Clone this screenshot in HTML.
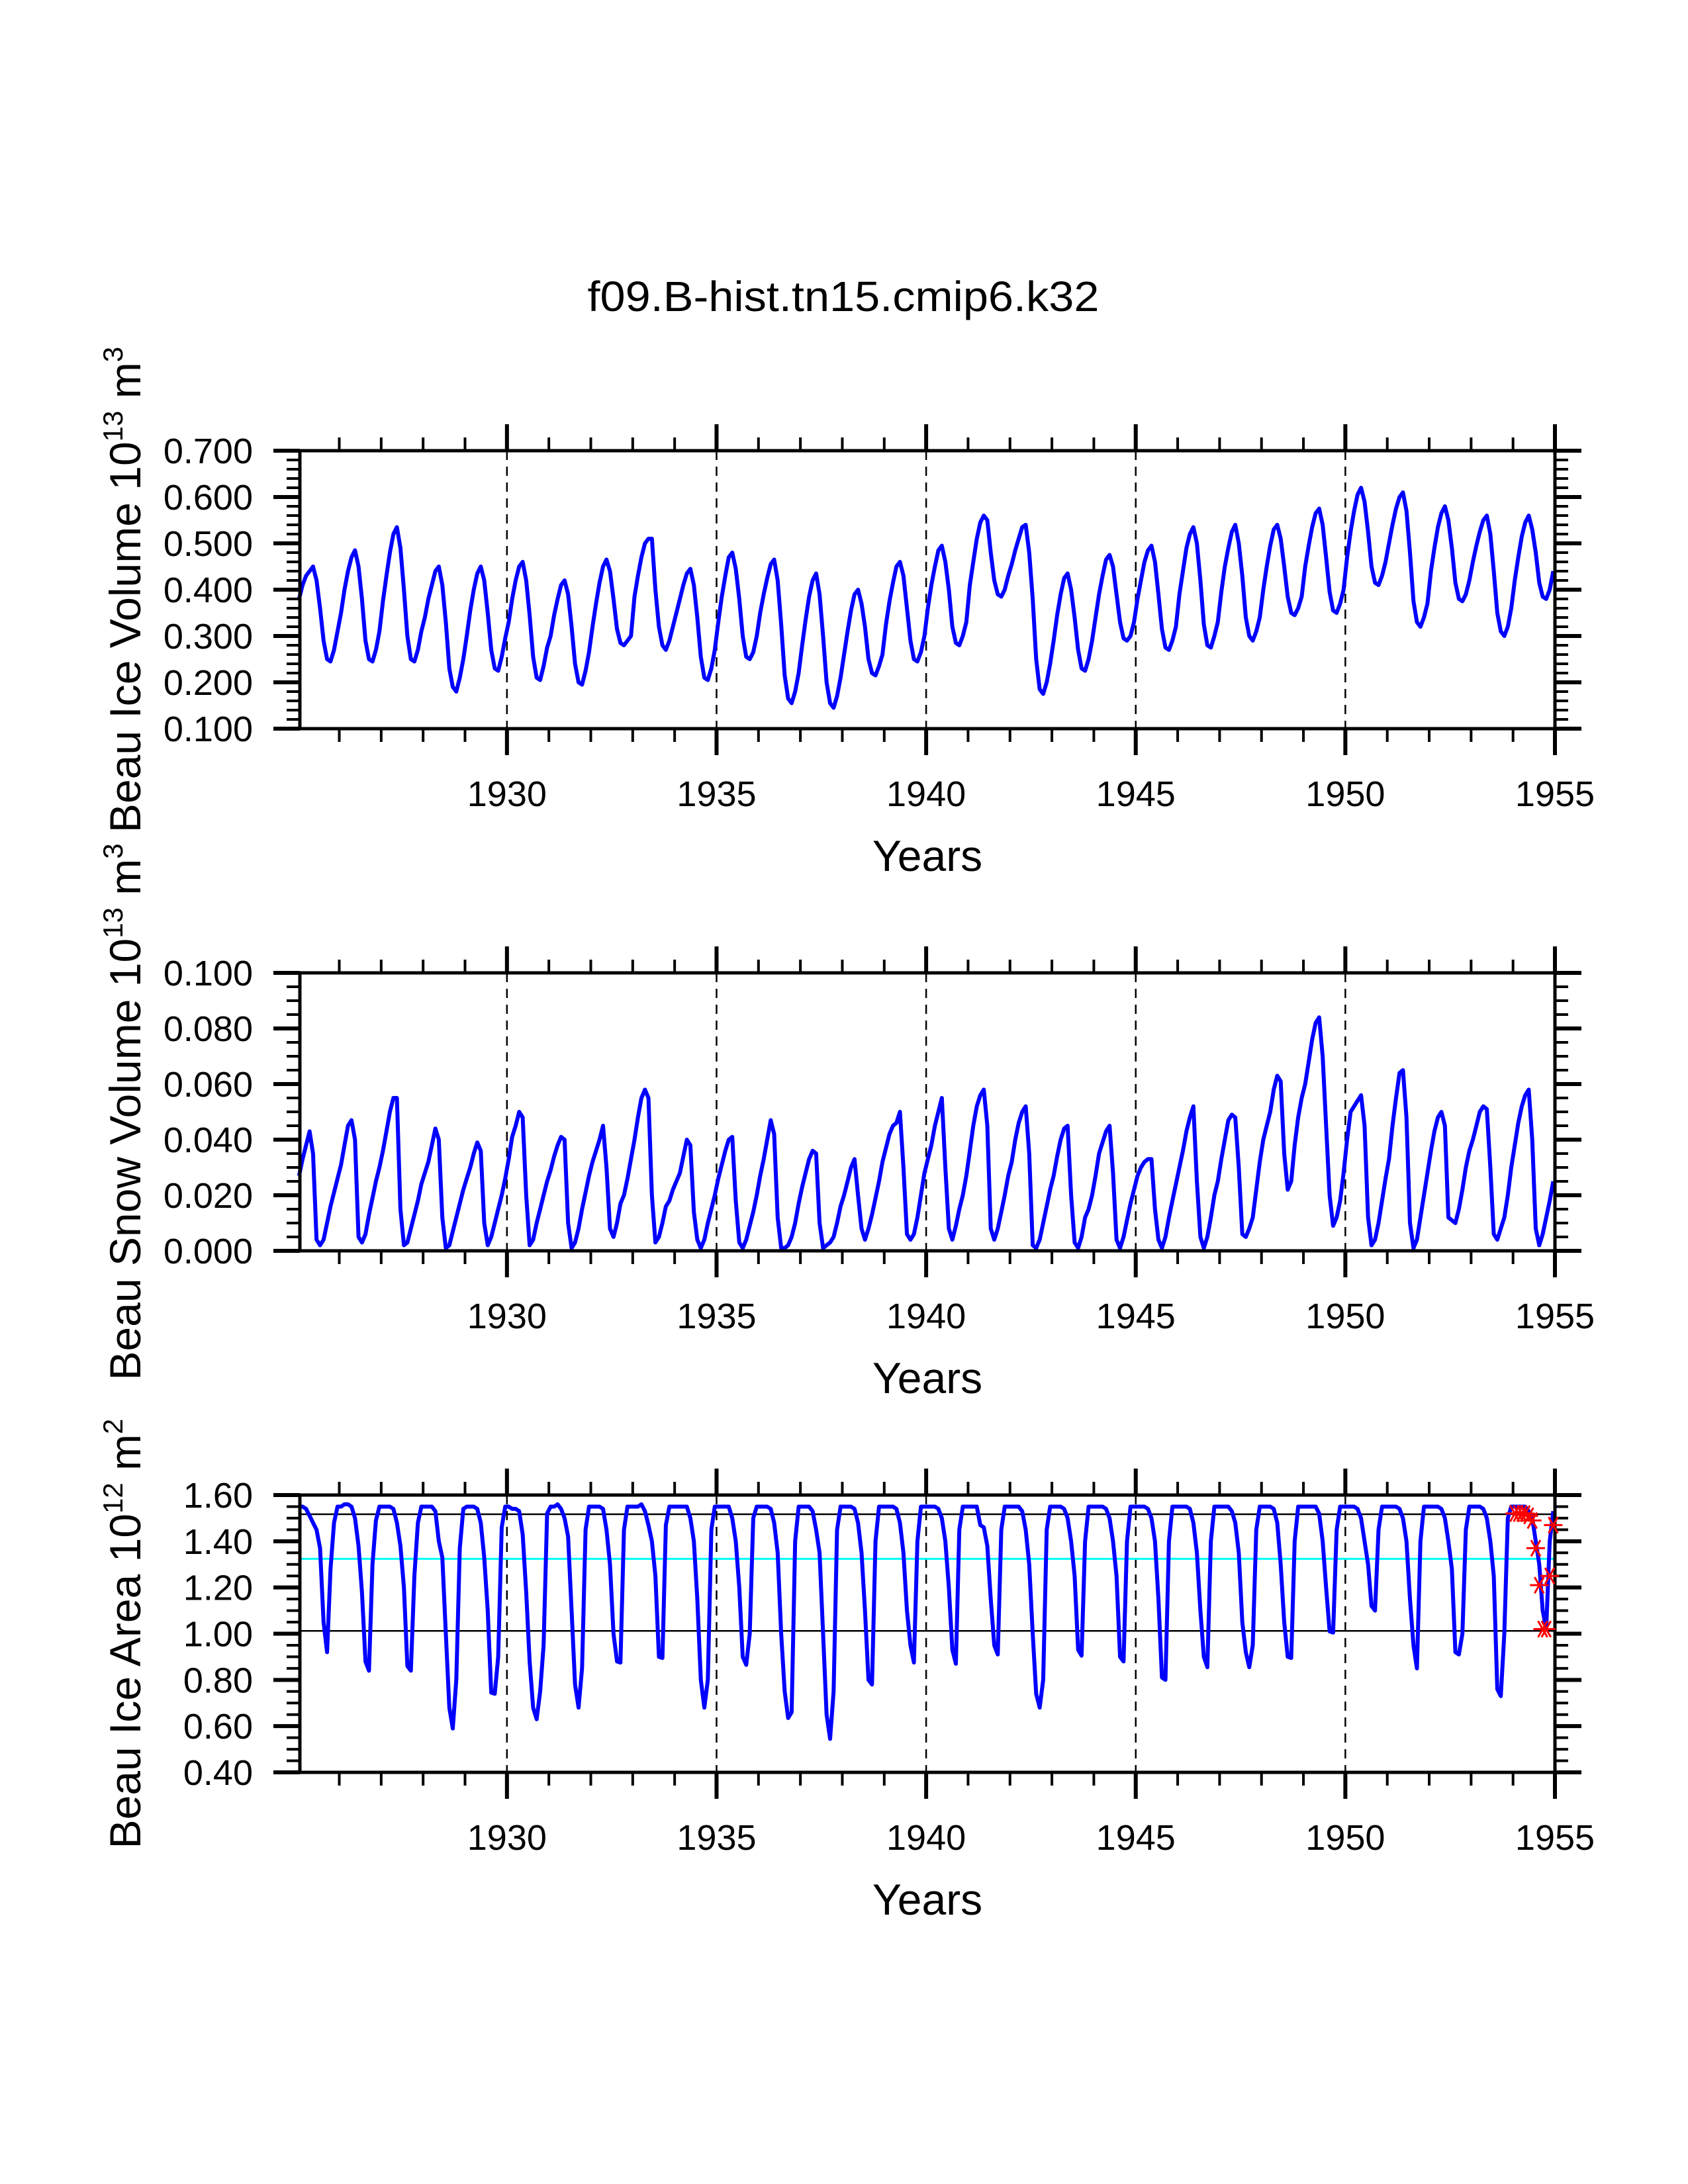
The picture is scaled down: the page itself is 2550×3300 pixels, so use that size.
<!DOCTYPE html>
<html><head><meta charset="utf-8"><style>
html,body{margin:0;padding:0;background:#fff;}
svg{display:block;font-family:"Liberation Sans",sans-serif;}
</style></head><body>
<svg id="chart" width="2550" height="3300" viewBox="0 0 2550 3300" xmlns="http://www.w3.org/2000/svg">
<rect width="2550" height="3300" fill="#fff"/>
<text x="1274" y="470" font-size="64" text-anchor="middle" textLength="773" lengthAdjust="spacingAndGlyphs">f09.B-hist.tn15.cmip6.k32</text>
</svg>
<script>
const iceVolume = [
.38,.41,.43,.44,.45,.42,.36,.29,.25,.245,.27,.31,
.35,.40,.44,.47,.485,.45,.38,.29,.25,.245,.27,.31,
.375,.43,.48,.52,.535,.49,.40,.30,.25,.245,.27,.31,
.34,.38,.41,.44,.45,.41,.33,.23,.19,.18,.21,.25,
.30,.355,.40,.435,.45,.42,.35,.27,.23,.225,.255,.295,
.33,.38,.42,.45,.46,.42,.345,.255,.21,.205,.235,.275,
.30,.345,.38,.41,.42,.39,.32,.24,.20,.195,.225,.265,
.32,.37,.415,.45,.465,.44,.38,.315,.285,.28,.29,.30,
.385,.43,.47,.50,.51,.51,.40,.32,.28,.27,.29,.32,
.35,.38,.41,.435,.445,.41,.34,.255,.21,.205,.23,.27,
.33,.385,.43,.47,.48,.445,.38,.30,.255,.25,.265,.30,
.35,.39,.425,.455,.465,.42,.325,.215,.165,.155,.18,.22,
.28,.335,.385,.42,.435,.39,.30,.20,.155,.145,.17,.21,
.26,.31,.355,.39,.40,.37,.32,.25,.22,.215,.235,.26,
.325,.375,.415,.45,.46,.43,.36,.29,.25,.245,.265,.30,
.36,.41,.45,.485,.495,.46,.40,.32,.285,.28,.30,.33,
.41,.46,.51,.545,.56,.55,.48,.42,.39,.385,.40,.43,
.455,.485,.51,.535,.54,.48,.38,.25,.185,.175,.20,.24,
.29,.345,.39,.425,.435,.40,.34,.27,.23,.225,.25,.29,
.34,.39,.43,.465,.475,.45,.39,.33,.295,.29,.30,.33,
.38,.42,.46,.485,.495,.46,.39,.315,.275,.27,.29,.32,
.39,.44,.49,.52,.535,.50,.42,.325,.28,.275,.30,.33,
.395,.45,.49,.525,.54,.50,.43,.34,.30,.29,.31,.34,
.40,.45,.495,.53,.54,.51,.45,.385,.35,.345,.36,.385,
.45,.495,.535,.565,.575,.54,.47,.395,.355,.35,.37,.40,
.47,.525,.57,.605,.62,.59,.525,.45,.415,.41,.43,.46,
.50,.54,.575,.60,.61,.57,.48,.375,.33,.32,.34,.37,
.44,.49,.535,.565,.58,.55,.49,.415,.38,.375,.39,.42,
.46,.495,.525,.55,.56,.52,.44,.35,.31,.30,.32,.36,
.42,.47,.515,.545,.56,.53,.48,.415,.385,.38,.40,.44];
const snowVolume = [
.027,.033,.038,.043,.035,.004,.002,.004,.010,.016,.021,.026,
.031,.038,.045,.047,.040,.005,.003,.006,.013,.019,.025,.030,
.036,.043,.050,.055,.055,.015,.002,.003,.008,.013,.018,.024,
.028,.032,.038,.044,.040,.012,.001,.002,.007,.012,.017,.022,
.026,.030,.035,.039,.036,.010,.002,.005,.010,.015,.020,.026,
.033,.041,.045,.050,.048,.020,.002,.004,.010,.015,.020,.025,
.029,.034,.038,.041,.040,.010,.001,.003,.008,.015,.021,.027,
.032,.036,.040,.045,.030,.008,.005,.010,.017,.020,.026,.033,
.040,.048,.055,.058,.055,.020,.003,.005,.010,.016,.018,.022,
.025,.028,.034,.040,.038,.014,.004,.001,.004,.010,.015,.020,
.026,.031,.036,.040,.041,.018,.003,.001,.004,.009,.014,.020,
.027,.033,.040,.047,.042,.012,.001,.001,.002,.005,.010,.017,
.023,.028,.033,.036,.035,.010,.001,.002,.003,.005,.010,.016,
.020,.025,.030,.033,.020,.008,.004,.008,.013,.019,.025,.032,
.037,.042,.045,.046,.050,.030,.006,.004,.006,.012,.020,.028,
.033,.038,.045,.050,.055,.030,.008,.004,.009,.015,.020,.027,
.036,.045,.052,.056,.058,.045,.008,.004,.008,.014,.020,.027,
.032,.040,.046,.050,.052,.035,.002,.001,.004,.010,.016,.022,
.027,.034,.040,.044,.045,.020,.003,.001,.005,.012,.015,.020,
.027,.035,.039,.043,.045,.028,.004,.001,.005,.011,.017,.022,
.027,.030,.032,.033,.033,.015,.004,.001,.005,.012,.018,.024,
.030,.036,.043,.048,.052,.025,.005,.001,.005,.012,.020,.025,
.033,.040,.047,.049,.048,.030,.006,.005,.008,.012,.022,.032,
.040,.045,.050,.058,.063,.061,.035,.022,.025,.038,.048,.055,
.060,.068,.076,.082,.084,.070,.045,.020,.009,.012,.018,.028,
.040,.050,.052,.054,.056,.045,.012,.002,.004,.010,.018,.026,
.033,.045,.055,.064,.065,.048,.010,.001,.004,.012,.020,.028,
.036,.043,.048,.050,.045,.012,.011,.010,.015,.022,.030,.036,
.040,.045,.050,.052,.051,.030,.006,.004,.008,.012,.020,.030,
.038,.046,.052,.056,.058,.040,.008,.002,.006,.012,.018,.025];
const iceArea = [
1.55,1.55,1.54,1.51,1.48,1.45,1.37,1.05,0.92,1.28,1.48,1.55,
1.55,1.56,1.56,1.55,1.50,1.38,1.18,0.88,0.84,1.30,1.49,1.55,
1.55,1.55,1.55,1.54,1.48,1.38,1.20,0.86,0.84,1.25,1.48,1.55,
1.55,1.55,1.55,1.53,1.40,1.33,1.00,0.68,0.59,0.80,1.37,1.54,
1.55,1.55,1.55,1.54,1.48,1.33,1.10,0.745,0.74,0.90,1.46,1.55,
1.55,1.54,1.54,1.53,1.43,1.18,0.88,0.68,0.63,0.75,0.95,1.52,
1.55,1.55,1.56,1.54,1.50,1.42,1.10,0.78,0.68,0.85,1.45,1.55,
1.55,1.55,1.55,1.54,1.45,1.30,1.00,0.88,0.875,1.45,1.55,1.55,
1.55,1.55,1.56,1.53,1.47,1.40,1.25,0.90,0.895,1.47,1.55,1.55,
1.55,1.55,1.55,1.55,1.50,1.40,1.15,0.80,0.68,0.80,1.45,1.55,
1.55,1.55,1.55,1.55,1.50,1.40,1.20,0.90,0.865,1.00,1.50,1.55,
1.55,1.55,1.55,1.54,1.48,1.35,1.00,0.75,0.635,0.66,1.40,1.55,
1.55,1.55,1.55,1.53,1.45,1.35,1.00,0.65,0.545,0.75,1.45,1.55,
1.55,1.55,1.55,1.54,1.48,1.35,1.10,0.80,0.78,1.40,1.55,1.55,
1.55,1.55,1.55,1.54,1.48,1.35,1.10,0.95,0.875,1.40,1.55,1.55,
1.55,1.55,1.55,1.54,1.50,1.40,1.20,0.93,0.87,1.45,1.55,1.55,
1.55,1.55,1.55,1.47,1.46,1.38,1.15,0.95,0.91,1.45,1.55,1.55,
1.55,1.55,1.55,1.53,1.45,1.30,1.00,0.74,0.68,0.80,1.45,1.55,
1.55,1.55,1.55,1.54,1.50,1.40,1.25,0.93,0.905,1.40,1.55,1.55,
1.55,1.55,1.55,1.54,1.50,1.40,1.25,0.90,0.88,1.40,1.55,1.55,
1.55,1.55,1.55,1.54,1.50,1.40,1.15,0.81,0.80,1.40,1.55,1.55,
1.55,1.55,1.55,1.54,1.48,1.35,1.10,0.90,0.855,1.40,1.55,1.55,
1.55,1.55,1.55,1.53,1.48,1.35,1.05,0.92,0.855,0.95,1.45,1.55,
1.55,1.55,1.55,1.54,1.48,1.30,1.05,0.90,0.895,1.40,1.55,1.55,
1.55,1.55,1.55,1.55,1.52,1.40,1.20,1.01,1.005,1.45,1.55,1.55,
1.55,1.55,1.55,1.54,1.50,1.40,1.30,1.12,1.10,1.45,1.55,1.55,
1.55,1.55,1.55,1.54,1.50,1.40,1.15,0.95,0.85,1.40,1.55,1.55,
1.55,1.55,1.55,1.54,1.50,1.40,1.28,0.92,0.91,1.00,1.45,1.55,
1.55,1.55,1.55,1.54,1.50,1.40,1.25,0.76,0.73,1.00,1.50,1.55,
1.55,1.55,1.55,1.55,1.53,1.50,1.40,1.30,1.10,1.02,1.40,1.53];
const lastYearStars = [1.52,1.52,1.52,1.52,1.51,1.49,1.37,1.21,1.02,1.02,1.25,1.47];
const refLines = [1.517, 1.012];
const meanLine = [1.324];
const xTickLabels = [1930,1935,1940,1945,1950,1955];
const volTicks = ["0.100","0.200","0.300","0.400","0.500","0.600","0.700"];
const snowTicks = ["0.000","0.020","0.040","0.060","0.080","0.100"];
const areaTicks = ["0.40","0.60","0.80","1.00","1.20","1.40","1.60"];

const NS="http://www.w3.org/2000/svg";
const svg=document.getElementById('chart');
const X0=1925.06,X1=1955,PL=453,PR=2349;
const xs=v=>PL+(v-X0)/(X1-X0)*(PR-PL);
function mk(tag,attrs,parent){const e=document.createElementNS(NS,tag);for(const k in attrs)e.setAttribute(k,attrs[k]);(parent||svg).appendChild(e);return e;}

function panel(name,top,bot,ymin,ymax,tickLabels,minorStep,series,title,sup,unitSup){
  const g=mk('g',{});
  
  
  const ys=v=>bot-(v-ymin)/(ymax-ymin)*(bot-top);
  for(let y=1930;y<1955;y+=5){
    const l=mk('line',{x1:xs(y),x2:xs(y),y1:top,y2:bot,stroke:'#000','stroke-width':2.5,'stroke-dasharray':'14,10'},g);
    
    
  }
  const extras=mk('g',{},g);
  let d='';
  series.forEach((v,i)=>{const x=1925+(i+0.5)/12;d+=(i?'L':'M')+xs(x).toFixed(1)+','+ys(v).toFixed(1);});
  const p=mk('path',{d:d,fill:'none',stroke:'#0000ff','stroke-width':6,'stroke-linejoin':'round'},g);
  
  
  const fr=mk('rect',{x:PL,y:top,width:PR-PL,height:bot-top,fill:'none',stroke:'#000','stroke-width':5},g);
  
  
  for(let y=1926;y<=1955;y++){
    const major=(y%5===0),len=major?40:20,w=major?6:4;
    mk('line',{x1:xs(y),x2:xs(y),y1:top,y2:top-len,stroke:'#000','stroke-width':w},g);
    mk('line',{x1:xs(y),x2:xs(y),y1:bot,y2:bot+len,stroke:'#000','stroke-width':w},g);
  }
  xTickLabels.forEach(v=>{
    const t=mk('text',{x:xs(v),y:bot+117,'font-size':54,'text-anchor':'middle'},g);
    
    
    t.textContent=v;
  });
  const nMinor=Math.round((ymax-ymin)/minorStep);
  const majEvery=Math.round(nMinor/(tickLabels.length-1));
  for(let i=0;i<=nMinor;i++){
    const yy=ys(ymin+i*minorStep),major=(i%majEvery===0),len=major?40:20,w=major?6:4;
    mk('line',{x1:PL,x2:PL-len,y1:yy,y2:yy,stroke:'#000','stroke-width':w},g);
    mk('line',{x1:PR,x2:PR+len,y1:yy,y2:yy,stroke:'#000','stroke-width':w},g);
  }
  tickLabels.forEach(s=>{
    const t=mk('text',{x:382,y:ys(parseFloat(s))+19,'font-size':54,'text-anchor':'end'},g);
    
    
    t.textContent=s;
  });
  const xt=mk('text',{x:(PL+PR)/2,y:bot+215,'font-size':66,'text-anchor':'middle'},g);
  
  
  xt.textContent='Years';
  const cy=(top+bot)/2;
  const yt=mk('text',{x:0,y:0,'font-size':66,'text-anchor':'middle',transform:'translate(212,'+cy+') rotate(-90)'},g);
  
  
  yt.appendChild(document.createTextNode(title+' 10'));
  const s1=mk('tspan',{dy:-27,'font-size':42},yt);s1.textContent=sup;
  const s2=mk('tspan',{dy:27},yt);s2.textContent=' m';
  const s3=mk('tspan',{dy:-27,'font-size':42},yt);s3.textContent=unitSup;
  return {g,ys,extras};
}

panel('ice-volume',681,1101,0.1,0.7,volTicks,0.02,iceVolume,'Beau Ice Volume','13','3');
panel('snow-volume',1470,1890,0.0,0.1,snowTicks,0.005,snowVolume,'Beau Snow Volume','13','3');
const p3=panel('ice-area',2259,2678,0.4,1.6,areaTicks,0.05,iceArea,'Beau Ice Area','12','2');

refLines.forEach((v,i)=>{
  const l=mk('line',{x1:PL,x2:PR,y1:p3.ys(v),y2:p3.ys(v),stroke:'#000','stroke-width':2.5},p3.extras);
  
  
});
meanLine.forEach(v=>{
  const l=mk('line',{x1:PL,x2:PR,y1:p3.ys(v),y2:p3.ys(v),stroke:'#00ffff','stroke-width':3},p3.extras);
  
  
});
const starG=mk('g',{stroke:'#ff0000','stroke-width':3});


lastYearStars.forEach((v,i)=>{
  const cx=xs(1954+(i+0.5)/12),cy=p3.ys(v),r=14;
  const st=mk('path',{d:`M${cx-r},${cy}L${cx+r},${cy}M${cx-r*0.5},${cy-r*0.87}L${cx+r*0.5},${cy+r*0.87}M${cx-r*0.5},${cy+r*0.87}L${cx+r*0.5},${cy-r*0.87}`},starG);
  
  
});
</script>
</body></html>
